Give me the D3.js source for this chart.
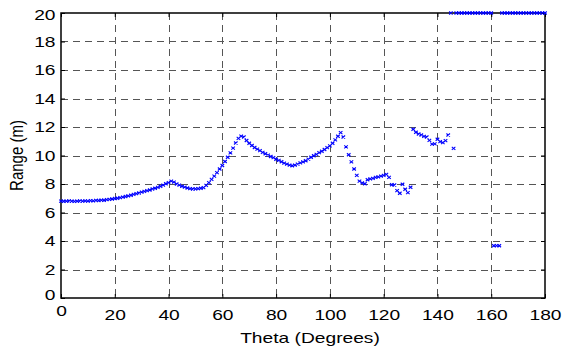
<!DOCTYPE html>
<html>
<head>
<meta charset="utf-8">
<script src="https://cdn.jsdelivr.net/npm/d3@7"></script>
<style>
    body { margin: 0; background: #fff; }
    svg { display: block; font-family: 'Liberation Sans', Arial, sans-serif; }
</style>
</head>
<body>
<div id="chart"></div>
<script>
// Data
const theta = [
    0, 1, 2, 3, 4, 5, 6, 7, 8, 9,
    10, 11, 12, 13, 14, 15, 16, 17, 18, 19,
    20, 21, 22, 23, 24, 25, 26, 27, 28, 29,
    30, 31, 32, 33, 34, 35, 36, 37, 38, 39,
    40, 41, 42, 43, 44, 45, 46, 47, 48, 49,
    50, 51, 52, 53, 54, 55, 56, 57, 58, 59,
    60, 61, 62, 63, 64, 65, 66, 67, 68, 69,
    70, 71, 72, 73, 74, 75, 76, 77, 78, 79,
    80, 81, 82, 83, 84, 85, 86, 87, 88, 89,
    90, 91, 92, 93, 94, 95, 96, 97, 98, 99,
    100, 101, 102, 103, 104, 105, 106, 107, 108, 109,
    110, 111, 112, 113, 114, 115, 116, 117, 118, 119,
    120, 121, 122, 123, 124, 125, 126, 127, 128, 129,
    130, 131, 132, 133, 134, 135, 136, 137, 138, 139,
    140, 141, 142, 143, 144, 145, 146, 147, 148, 149,
    150, 151, 152, 153, 154, 155, 156, 157, 158, 159,
    160, 161, 162, 163, 164, 165, 166, 167, 168, 169,
    170, 171, 172, 173, 174, 175, 176, 177, 178, 179,
    180
];

const range = [
    6.80, 6.79, 6.80, 6.81, 6.80, 6.78, 6.80, 6.81, 6.80, 6.82,
    6.80, 6.83, 6.82, 6.85, 6.84, 6.87, 6.86, 6.90, 6.92, 6.95,
    6.98, 7.00, 7.04, 7.08, 7.12, 7.17, 7.21, 7.27, 7.32, 7.37,
    7.43, 7.48, 7.54, 7.58, 7.65, 7.70, 7.76, 7.84, 7.92, 8.02,
    8.10, 8.20, 8.13, 8.00, 7.92, 7.84, 7.78, 7.72, 7.68, 7.65,
    7.66, 7.68, 7.70, 7.75, 7.90, 8.10, 8.32, 8.55, 8.80, 9.05,
    9.30, 9.58, 9.88, 10.18, 10.52, 10.88, 11.20, 11.36, 11.30, 11.05,
    10.86, 10.70, 10.56, 10.45, 10.34, 10.22, 10.12, 10.03, 9.93, 9.85,
    9.74, 9.66, 9.56, 9.46, 9.39, 9.32, 9.28, 9.32, 9.40, 9.48,
    9.55, 9.63, 9.75, 9.88, 9.98, 10.08, 10.20, 10.30, 10.42, 10.55,
    10.68, 10.86, 11.10, 11.35, 11.60, 11.30, 10.60, 10.05, 9.55, 9.05,
    8.60, 8.20, 8.08, 8.02, 8.30, 8.36, 8.40, 8.46, 8.50, 8.55,
    8.60, 8.68, 8.47, 7.95, 7.93, 7.53, 7.35, 7.98, 7.63, 7.39,
    7.77, 11.84, 11.63, 11.51, 11.44, 11.34, 11.30, 11.06, 10.80, 10.82,
    11.14, 10.97, 10.90, 11.04, 11.44, 20, 10.50, 20, 20, 20,
    20, 20, 20, 20, 20, 20, 20, 20, 20, 20,
    20, 3.67, 3.68, 3.67, 20, 20, 20, 20, 20, 20,
    20, 20, 20, 20, 20, 20, 20, 20, 20, 20,
    20
];

const xTicks = [0, 20, 40, 60, 80, 100, 120, 140, 160, 180];
const yTicks = [0, 2, 4, 6, 8, 10, 12, 14, 16, 18, 20];

const xLabel = 'Theta (Degrees)';
const yLabel = 'Range (m)';

// Layout
const width = 563;
const height = 353;
const plot = { left: 61, right: 545, top: 13, bottom: 298 };
const stretch = 1.28; // text in the original is wider than it is tall

const x = d3.scaleLinear().domain([0, 180]).range([plot.left, plot.right]);
const y = d3.scaleLinear().domain([0, 20]).range([plot.bottom, plot.top]);

const svg = d3.select('#chart')
    .append('svg')
    .attr('width', width)
    .attr('height', height);

svg.append('rect')
    .attr('width', width)
    .attr('height', height)
    .attr('fill', '#fff');

// grid
const grid = svg.append('g')
    .attr('stroke', '#555')
    .attr('stroke-width', 1)
    .attr('stroke-dasharray', '7,5');

grid.selectAll('.vgrid')
    .data(xTicks.slice(1, -1))
    .join('line')
    .attr('x1', d => Math.round(x(d)) + 0.5)
    .attr('x2', d => Math.round(x(d)) + 0.5)
    .attr('y1', plot.top)
    .attr('y2', plot.bottom);

grid.selectAll('.hgrid')
    .data(yTicks.slice(1, -1))
    .join('line')
    .attr('y1', d => Math.round(y(d)) + 0.5)
    .attr('y2', d => Math.round(y(d)) + 0.5)
    .attr('x1', plot.left)
    .attr('x2', plot.right);

// axes (inward ticks on all sides)
const styleAxis = g => {
    g.select('.domain').remove();
    g.selectAll('.tick line').attr('stroke', '#000');
    g.selectAll('text')
        .attr('fill', '#000')
        .style('font-size', '15px')
        .style('font-family', "'Liberation Sans', Arial, sans-serif");
};

const xAxis = svg.append('g')
    .attr('transform', `translate(0, ${plot.bottom})`)
    .call(d3.axisBottom(x).tickValues(xTicks).tickSize(-4).tickPadding(11))
    .call(styleAxis);

xAxis.selectAll('.tick text')
    .attr('transform', `scale(${stretch},1)`);

xAxis.selectAll('.tick')
    .filter(d => d === 0)
    .select('text')
    .attr('y', 7);

const yAxis = svg.append('g')
    .attr('transform', `translate(${plot.left}, 0)`)
    .call(d3.axisLeft(y).tickValues(yTicks).tickSize(-4).tickPadding(5.5))
    .call(styleAxis);

yAxis.selectAll('.tick text')
    .attr('x', -5.5 / stretch)
    .attr('transform', `scale(${stretch},1)`);

yAxis.selectAll('.tick')
    .filter(d => d === 0)
    .select('text')
    .attr('dy', '0.1em');

yAxis.selectAll('.tick')
    .filter(d => d === 20)
    .select('text')
    .attr('dy', '0.42em');

svg.append('g')
    .attr('transform', `translate(0, ${plot.top})`)
    .call(d3.axisTop(x).tickValues(xTicks).tickSize(-4).tickFormat(''))
    .call(styleAxis);

svg.append('g')
    .attr('transform', `translate(${plot.right}, 0)`)
    .call(d3.axisRight(y).tickValues(yTicks).tickSize(-4).tickFormat(''))
    .call(styleAxis);

// frame
svg.append('rect')
    .attr('x', plot.left)
    .attr('y', plot.top)
    .attr('width', plot.right - plot.left)
    .attr('height', plot.bottom - plot.top)
    .attr('fill', 'none')
    .attr('stroke', '#000')
    .attr('stroke-width', 1.5);

// points
const sx = 1.8, sy = 1.5;
svg.append('g')
    .attr('class', 'points')
    .selectAll('path')
    .data(theta.map((t, i) => [t, range[i]]))
    .join('path')
    .attr('transform', d => `translate(${x(d[0])}, ${y(d[1])})`)
    .attr('d', `M${-sx},${-sy}L${sx},${sy}M${-sx},${sy}L${sx},${-sy}`)
    .attr('stroke', '#0000ff')
    .attr('stroke-width', 1.1)
    .attr('fill', 'none');

// axis titles
svg.append('text')
    .attr('transform', `translate(310, 343) scale(${stretch},1)`)
    .attr('text-anchor', 'middle')
    .style('font-size', '15px')
    .text(xLabel);

svg.append('text')
    .attr('transform', `translate(23, ${(plot.top + plot.bottom) / 2}) rotate(-90) scale(1,${stretch})`)
    .attr('text-anchor', 'middle')
    .style('font-size', '15px')
    .text(yLabel);
</script>
</body>
</html>
